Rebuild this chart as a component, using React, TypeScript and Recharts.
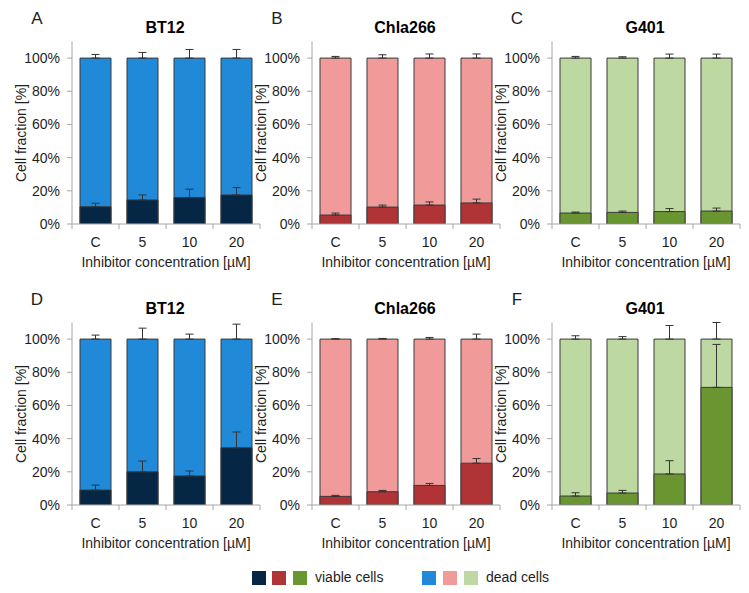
import React from 'react';
import { BarChart, Bar, XAxis, YAxis, ErrorBar } from 'recharts';

// x categories (inhibitor concentration) and y ticks
const categories = ['C', '5', '10', '20'];
const yTicks = [0, 20, 40, 60, 80, 100];

// viable cell fraction [%], upper SD of viable [%], upper SD of dead [%]
const viableA = [10.4, 14.5, 16, 17.5];
const viableErrA = [2.1, 3.0, 5.0, 4.5];
const deadErrA = [2.2, 3.4, 5.2, 5.2];

const viableB = [5.4, 10.2, 11.4, 12.7];
const viableErrB = [1.2, 1.2, 1.9, 2.3];
const deadErrB = [1.0, 2.0, 2.5, 2.5];

const viableC = [6.6, 7.0, 7.5, 7.8];
const viableErrC = [0.6, 0.8, 1.8, 1.8];
const deadErrC = [1.0, 0.8, 2.4, 2.4];

const viableD = [9.0, 20.0, 17.5, 34.5];
const viableErrD = [3.0, 6.5, 3.0, 9.5];
const deadErrD = [2.4, 6.6, 3.0, 9.0];

const viableE = [5.2, 8.0, 11.8, 25.2];
const viableErrE = [0.6, 0.8, 1.2, 2.8];
const deadErrE = [0.2, 0.4, 1.0, 3.0];

const viableF = [5.4, 7.2, 18.7, 70.9];
const viableErrF = [2.0, 1.6, 8.0, 25.9];
const deadErrF = [2.0, 1.5, 8.2, 10.0]; // last one reaches the top of the axis

const FONT = '"Liberation Sans", Arial, sans-serif';
const TEXT = '#1e1e1e';
const AXIS = '#a6a6a6';
const OUTLINE = '#3a3a3a';

const BLUE = { viable: '#062645', dead: '#2089d8' };
const RED = { viable: '#b03436', dead: '#f19a9a' };
const GREEN = { viable: '#6a9631', dead: '#bdd8a0' };

// chart geometry
const CHART_W = 262;
const CHART_H = 272;
const MARGIN = { top: 41.5, right: 2, left: 12, bottom: 0 };
const Y_AXIS_W = 60;
const X_AXIS_H = 48;
const PLOT_W = CHART_W - MARGIN.left - MARGIN.right - Y_AXIS_W;
const HALF_BAND = PLOT_W / categories.length / 2;
const X_TICK_MARGIN = 13;

const XTick = (props: any) => {
  const { x, y, payload, index } = props;
  const axisY = y - X_TICK_MARGIN;
  return (
    <g>
      <line x1={x - HALF_BAND} x2={x - HALF_BAND} y1={axisY} y2={axisY + 5} stroke={AXIS} />
      {index === categories.length - 1 && (
        <line x1={x + HALF_BAND} x2={x + HALF_BAND} y1={axisY} y2={axisY + 5} stroke={AXIS} />
      )}
      <text x={x} y={y} dy="0.71em" textAnchor="middle" fontSize={14} fontFamily={FONT} fill={TEXT}>
        {payload.value}
      </text>
    </g>
  );
};

const Centered = ({ cx, cy, style, children }: any) => (
  <div
    style={{
      position: 'absolute',
      left: cx,
      top: cy,
      transform: 'translate(-50%, -50%)',
      whiteSpace: 'nowrap',
      lineHeight: 1,
      color: TEXT,
      ...style,
    }}
  >
    {children}
  </div>
);

type PanelProps = {
  letter: string;
  title: string;
  viable: number[];
  viableErr: number[];
  deadErr: number[];
  colors: { viable: string; dead: string };
  left: number;
  top: number;
};

const Panel = ({ letter, title, viable, viableErr, deadErr, colors, left, top }: PanelProps) => {
  const rows = categories.map((cat, i) => {
    const dead = 100 - viable[i];
    return {
      cat,
      viable: viable[i],
      total: viable[i] + dead,
      vErr: [0, viableErr[i]],
      dErr: [0, deadErr[i]],
    };
  });

  return (
    <>
      <Centered cx={left + 37} cy={top + 18} style={{ fontSize: 17 }}>{letter}</Centered>
      <Centered cx={left + 165} cy={top + 27.7} style={{ fontSize: 16, fontWeight: 'bold', color: '#000' }}>
        {title}
      </Centered>
      <Centered cx={left + 21} cy={top + 133} style={{ fontSize: 14, transform: 'translate(-50%, -50%) rotate(-90deg)' }}>
        Cell fraction [%]
      </Centered>
      <Centered cx={left + 166} cy={top + 262} style={{ fontSize: 14 }}>
        Inhibitor concentration [µM]
      </Centered>
      <div style={{ position: 'absolute', left, top }}>
        <BarChart width={CHART_W} height={CHART_H} data={rows} margin={MARGIN} barSize={31}>
          <XAxis
            xAxisId="a"
            dataKey="cat"
            height={X_AXIS_H}
            interval={0}
            tickLine={false}
            tickSize={0}
            tickMargin={X_TICK_MARGIN}
            axisLine={{ stroke: AXIS }}
            tick={(p: any) => <XTick {...p} />}
          />
          <XAxis xAxisId="b" dataKey="cat" hide />
          <YAxis
            width={Y_AXIS_W}
            domain={[0, 110]}
            allowDataOverflow
            ticks={yTicks}
            tickFormatter={(v: number) => `${v}%`}
            tickSize={5}
            tickMargin={7}
            axisLine={{ stroke: AXIS }}
            tickLine={{ stroke: AXIS }}
            tick={{ fontSize: 14, fontFamily: FONT, fill: TEXT }}
          />
          <Bar xAxisId="a" dataKey="total" fill={colors.dead} stroke={OUTLINE} strokeWidth={1} isAnimationActive={false}>
            <ErrorBar dataKey="dErr" width={4} stroke="#333" strokeWidth={1} direction="y" />
          </Bar>
          <Bar xAxisId="b" dataKey="viable" fill={colors.viable} stroke={OUTLINE} strokeWidth={1} isAnimationActive={false}>
            <ErrorBar dataKey="vErr" width={4} stroke="#333" strokeWidth={1} direction="y" />
          </Bar>
        </BarChart>
      </div>
    </>
  );
};

const Swatch = ({ x, color }: { x: number; color: string }) => (
  <div style={{ position: 'absolute', left: x, top: 571, width: 14, height: 14, background: color }} />
);

export default function App() {
  return (
    <div
      style={{
        position: 'absolute',
        left: 0,
        top: 0,
        width: 749,
        height: 593,
        background: '#fff',
        fontFamily: FONT,
        overflow: 'hidden',
      }}
    >
      <Panel letter="A" title="BT12" viable={viableA} viableErr={viableErrA} deadErr={deadErrA} colors={BLUE} left={0} top={0} />
      <Panel letter="B" title="Chla266" viable={viableB} viableErr={viableErrB} deadErr={deadErrB} colors={RED} left={240} top={0} />
      <Panel letter="C" title="G401" viable={viableC} viableErr={viableErrC} deadErr={deadErrC} colors={GREEN} left={480} top={0} />
      <Panel letter="D" title="BT12" viable={viableD} viableErr={viableErrD} deadErr={deadErrD} colors={BLUE} left={0} top={281} />
      <Panel letter="E" title="Chla266" viable={viableE} viableErr={viableErrE} deadErr={deadErrE} colors={RED} left={240} top={281} />
      <Panel letter="F" title="G401" viable={viableF} viableErr={viableErrF} deadErr={deadErrF} colors={GREEN} left={480} top={281} />

      <Swatch x={252} color={BLUE.viable} />
      <Swatch x={272} color={RED.viable} />
      <Swatch x={293} color={GREEN.viable} />
      <div style={{ position: 'absolute', left: 315, top: 577, transform: 'translateY(-50%)', fontSize: 14, lineHeight: 1, color: TEXT }}>
        viable cells
      </div>
      <Swatch x={422} color={BLUE.dead} />
      <Swatch x={443} color={RED.dead} />
      <Swatch x={464} color={GREEN.dead} />
      <div style={{ position: 'absolute', left: 486, top: 577, transform: 'translateY(-50%)', fontSize: 14, lineHeight: 1, color: TEXT }}>
        dead cells
      </div>
    </div>
  );
}
